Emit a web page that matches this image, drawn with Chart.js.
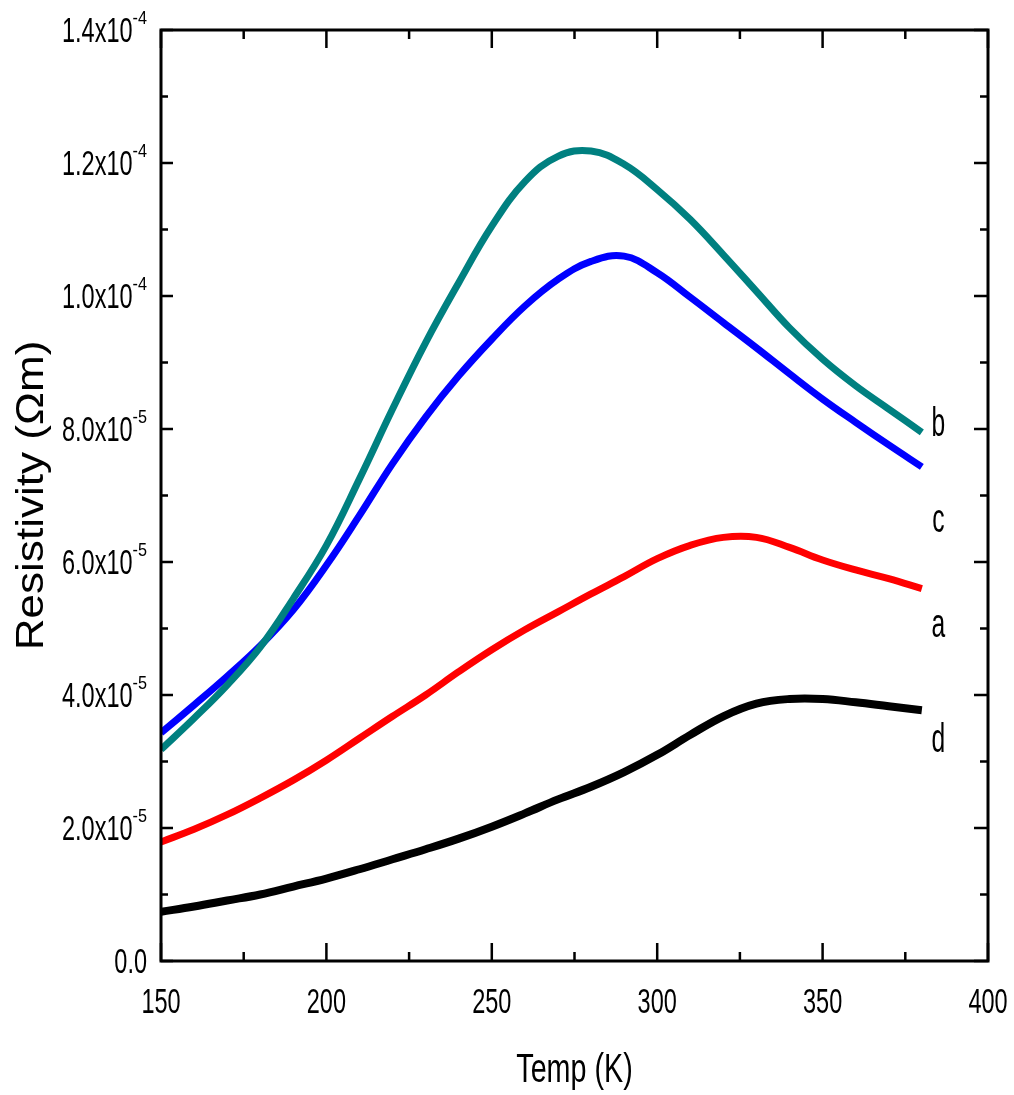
<!DOCTYPE html>
<html>
<head>
<meta charset="utf-8">
<script src="https://cdn.jsdelivr.net/npm/chart.js@4/dist/chart.umd.min.js"></script>
<style>
  html, body { margin: 0; padding: 0; background: #fff; }
  #wrap { width: 1014px; height: 1095px; }
</style>
</head>
<body>
<div id="wrap"><canvas id="rho-chart" width="1014" height="1095"></canvas></div>
<script>
// Temperature (K) and resistivity in units of 1e-5 Ohm m
const temps = [150, 160, 170, 180, 190, 200, 210, 220, 230, 240, 250, 260, 270, 280, 290, 300, 310, 320, 330, 340, 350, 360, 370, 380];
const rhoA = [1.79, 1.98, 2.20, 2.45, 2.72, 3.02, 3.35, 3.68, 4.00, 4.35, 4.68, 4.98, 5.25, 5.52, 5.78, 6.05, 6.25, 6.37, 6.37, 6.22, 6.03, 5.88, 5.75, 5.60];
const rhoB = [3.18, 3.65, 4.15, 4.72, 5.45, 6.25, 7.25, 8.30, 9.30, 10.20, 11.05, 11.72, 12.10, 12.18, 11.98, 11.60, 11.15, 10.62, 10.07, 9.52, 9.05, 8.65, 8.30, 7.95];
const rhoC = [3.43, 3.85, 4.28, 4.74, 5.28, 5.95, 6.70, 7.48, 8.18, 8.80, 9.35, 9.85, 10.25, 10.52, 10.60, 10.35, 9.98, 9.60, 9.22, 8.83, 8.45, 8.10, 7.76, 7.43];
const rhoD = [0.74, 0.82, 0.91, 1.00, 1.12, 1.24, 1.38, 1.53, 1.68, 1.84, 2.02, 2.22, 2.43, 2.62, 2.84, 3.10, 3.40, 3.68, 3.87, 3.94, 3.94, 3.89, 3.83, 3.77];

const xMajor = [150, 200, 250, 300, 350, 400];
const xMinor = [175, 225, 275, 325, 375];
const yMajor = [0, 2, 4, 6, 8, 10, 12, 14];
const yMinor = [1, 3, 5, 7, 9, 11, 13];
const yTickText = [['0.0', ''], ['2.0x10', '-5'], ['4.0x10', '-5'], ['6.0x10', '-5'], ['8.0x10', '-5'], ['1.0x10', '-4'], ['1.2x10', '-4'], ['1.4x10', '-4']];

const curveNames = ['a', 'b', 'c', 'd'];
const curveColors = ['#ff0000', '#008080', '#0000ff', '#000000'];
const curveData = [rhoA, rhoB, rhoC, rhoD];
// where the letters sit, in data units (temperature, resistivity)
const letterPos = { b: [385, 7.9], c: [385, 6.45], a: [385, 4.87], d: [385, 3.14] };

const FONT = '"Liberation Sans", Arial, sans-serif';

function txt(ctx, s, x, y, size, sx, sy, align) {
    ctx.save();
    ctx.translate(x, y);
    ctx.scale(sx, sy);
    ctx.font = size + 'px ' + FONT;
    ctx.textAlign = align;
    ctx.textBaseline = 'alphabetic';
    ctx.fillStyle = '#000';
    ctx.fillText(s, 0, 0);
    ctx.restore();
}

function textWidth(ctx, s, size, sx) {
    ctx.save();
    ctx.font = size + 'px ' + FONT;
    const w = ctx.measureText(s).width * sx;
    ctx.restore();
    return w;
}

const framePlugin = {
    id: 'frame',
    afterDraw(chart) {
        const ctx = chart.ctx;
        const a = chart.chartArea;
        const x = chart.scales.x, y = chart.scales.y;
        ctx.save();
        ctx.strokeStyle = '#000';
        ctx.lineWidth = 3;
        ctx.strokeRect(a.left, a.top, a.right - a.left, a.bottom - a.top);

        ctx.lineWidth = 2.5;
        ctx.beginPath();
        xMajor.forEach(v => {
            const px = x.getPixelForValue(v);
            ctx.moveTo(px, a.bottom); ctx.lineTo(px, a.bottom - 18);
            ctx.moveTo(px, a.top); ctx.lineTo(px, a.top + 18);
        });
        xMinor.forEach(v => {
            const px = x.getPixelForValue(v);
            ctx.moveTo(px, a.bottom); ctx.lineTo(px, a.bottom - 9);
            ctx.moveTo(px, a.top); ctx.lineTo(px, a.top + 9);
        });
        yMajor.forEach(v => {
            const py = y.getPixelForValue(v);
            ctx.moveTo(a.left, py); ctx.lineTo(a.left + 12, py);
            ctx.moveTo(a.right, py); ctx.lineTo(a.right - 14, py);
        });
        yMinor.forEach(v => {
            const py = y.getPixelForValue(v);
            ctx.moveTo(a.left, py); ctx.lineTo(a.left + 7, py);
            ctx.moveTo(a.right, py); ctx.lineTo(a.right - 8, py);
        });
        ctx.stroke();

        // x tick labels
        xMajor.forEach(v => {
            txt(ctx, String(v), x.getPixelForValue(v), a.bottom + 52, 28, 0.84, 1.27, 'center');
        });

        // y tick labels with superscript exponent
        yMajor.forEach((v, i) => {
            const py = y.getPixelForValue(v);
            const main = yTickText[i][0], sup = yTickText[i][1];
            const right = a.left - 14;
            const supW = sup ? textWidth(ctx, sup, 18, 0.9) : 0;
            txt(ctx, main, right - supW, py + 12, 28, 0.84, 1.27, 'right');
            if (sup) txt(ctx, sup, right - supW, py - 6, 18, 0.9, 1.0, 'left');
        });

        // axis titles
        txt(ctx, 'Temp (K)', (a.left + a.right) / 2, 1082, 35, 0.82, 1.16, 'center');
        ctx.save();
        ctx.translate(43, (a.top + a.bottom) / 2);
        ctx.rotate(-Math.PI / 2);
        txt(ctx, 'Resistivity (\u03A9m)', 0, 0, 38, 1.16, 1.0, 'center');
        ctx.restore();

        // curve letters
        Object.keys(letterPos).forEach(k => {
            const p = letterPos[k];
            txt(ctx, k, x.getPixelForValue(p[0]), y.getPixelForValue(p[1]), 30, 0.82, 1.35, 'center');
        });
        ctx.restore();
    }
};

const datasets = curveNames.map((n, i) => ({
    label: n,
    data: temps.map((t, j) => ({ x: t, y: curveData[i][j] })),
    borderColor: curveColors[i],
    borderWidth: i === 3 ? 8 : 7,
    pointRadius: 0,
    fill: false,
    tension: 0.4,
    borderCapStyle: 'butt'
}));

new Chart(document.getElementById('rho-chart').getContext('2d'), {
    type: 'line',
    data: { datasets: datasets },
    options: {
        responsive: false,
        animation: false,
        layout: { padding: { left: 161, right: 26, top: 30, bottom: 134 } },
        plugins: { legend: { display: false }, tooltip: { enabled: false } },
        scales: {
            x: { type: 'linear', min: 150, max: 400, display: false },
            y: { type: 'linear', min: 0, max: 14, display: false }
        }
    },
    plugins: [framePlugin]
});
</script>
</body>
</html>
